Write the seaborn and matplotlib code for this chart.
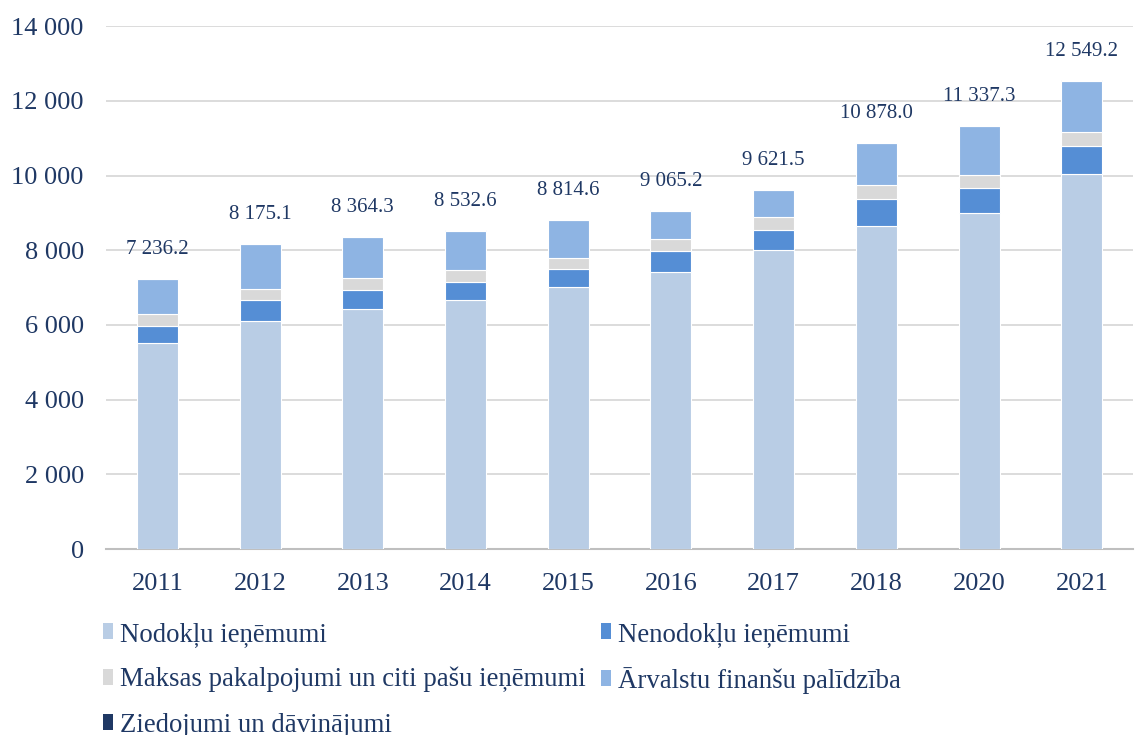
import matplotlib
matplotlib.use("Agg")
import matplotlib.pyplot as plt
import seaborn as sns
import numpy as np
from matplotlib.patches import Patch

years = ["2011", "2012", "2013", "2014", "2015", "2016", "2017", "2018", "2020", "2021"]
nodoklu = [5514, 6103, 6424, 6673, 7005, 7414, 8003, 8654, 9002, 10030]
nenodoklu = [463, 553, 508, 474, 482, 571, 536, 714, 661, 757]
maksas = [305, 303, 314, 312, 310, 321, 348, 375, 348, 383]
arvalstu = [946, 1206, 1109, 1066, 1009, 749, 726, 1124, 1314, 1369]
ziedojumi = [8, 10, 9, 8, 9, 10, 9, 11, 12, 10]
totals = [7236.2, 8175.1, 8364.3, 8532.6, 8814.6, 9065.2, 9621.5, 10878.0, 11337.3, 12549.2]
yticks = [0, 2000, 4000, 6000, 8000, 10000, 12000, 14000]

series = [
    ("Nodokļu ieņēmumi", nodoklu, "#B9CDE5"),
    ("Nenodokļu ieņēmumi", nenodoklu, "#558ED5"),
    ("Maksas pakalpojumi un citi pašu ieņēmumi", maksas, "#D9D9D9"),
    ("Ārvalstu finanšu palīdzība", arvalstu, "#8EB4E3"),
    ("Ziedojumi un dāvinājumi", ziedojumi, "#1F3864"),
]

sns.set_theme(style="white")
plt.rcParams["font.family"] = ["Liberation Serif", "DejaVu Serif"]
navy = "#1F3864"

fig = plt.figure(figsize=(11.35, 7.35), dpi=100)
ax = fig.add_axes([0.0934, 0.253, 0.905, 0.7115])

bottom = np.zeros(len(years))
for name, vals, col in series:
    sns.barplot(x=years, y=vals, bottom=bottom, color=col, width=0.4, saturation=1,
                edgecolor="white", linewidth=0.8, ax=ax, zorder=3)
    bottom = bottom + np.array(vals, dtype=float)

for i, t in enumerate(totals):
    lab = f"{t:,.1f}".replace(",", " ")
    ax.annotate(lab, xy=(i, bottom[i]), xytext=(0, 14), textcoords="offset points",
                ha="center", va="bottom", fontsize=15, color=navy)

ax.set_ylim(0, 14000)
ax.set_xlim(-0.5, len(years) - 0.5)
ax.set_yticks(yticks)
ax.set_yticklabels([f"{v:,}".replace(",", " ") for v in yticks])
ax.yaxis.grid(True, color="#D9D9D9", linewidth=1.3, zorder=0)
ax.set_axisbelow(True)
for s in ["top", "right", "left"]:
    ax.spines[s].set_visible(False)
ax.spines["bottom"].set_color("#BFBFBF")
ax.spines["bottom"].set_linewidth(1.5)
ax.tick_params(axis="both", length=0, labelsize=19, colors=navy)
ax.tick_params(axis="x", pad=17)
ax.tick_params(axis="y", pad=16)
ax.set_xlabel("")
ax.set_ylabel("")

handles = [Patch(facecolor=c, edgecolor="none", label=n) for n, _, c in series]
order = [0, 2, 4, 1, 3]
leg = fig.legend([handles[i] for i in order], [series[i][0] for i in order],
                 ncol=2, loc="upper left", bbox_to_anchor=(0.0905, 0.154),
                 frameon=False, fontsize=19.3, handlelength=0.4, handleheight=0.55,
                 handletextpad=0.25, columnspacing=0.55, labelspacing=0.75,
                 borderaxespad=0, borderpad=0)
for t in leg.get_texts():
    t.set_color(navy)

fig.savefig("out.png", dpi=100)
